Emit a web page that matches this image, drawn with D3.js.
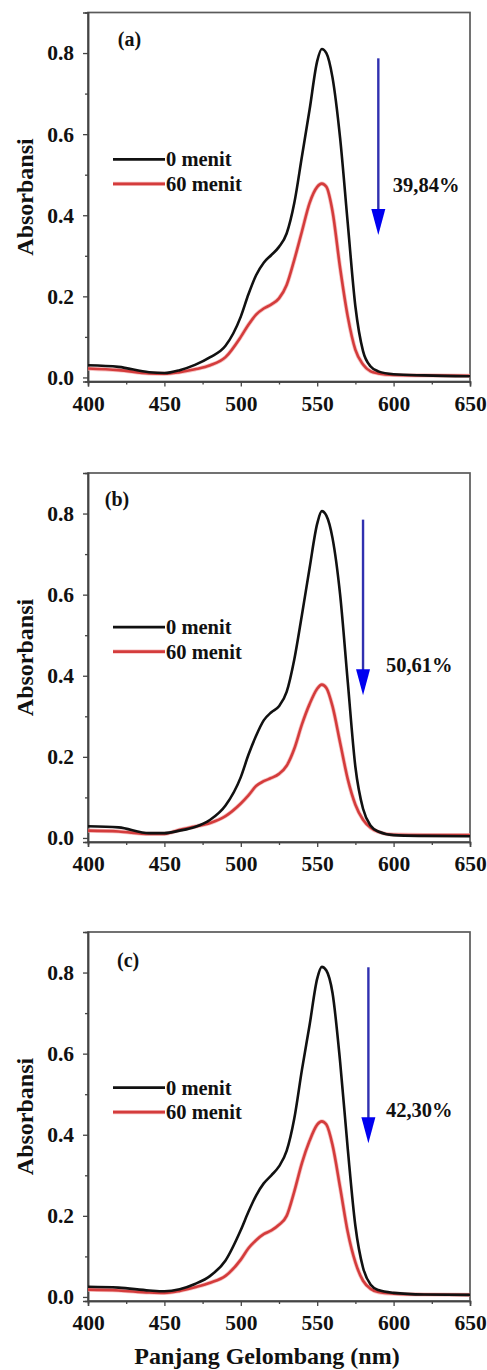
<!DOCTYPE html>
<html>
<head>
<meta charset="utf-8">
<script src="https://cdn.jsdelivr.net/npm/d3@7"></script>
<style>
  html, body { margin: 0; padding: 0; background: #fff; }
  svg { display: block; }
  text { font-family: "Liberation Serif", "Times New Roman", serif; font-weight: bold; fill: #111; }
</style>
</head>
<body>
<svg id="chart" width="487" height="1370"></svg>
<script>
// ---------- DATA ----------
const wavelengths = [400,420,440,450,460,470,480,490,500,505,510,515,520,525,530,535,540,545,550,553,556,560,565,570,575,580,585,590,600,620,650];

const panelLabels = ["(a)", "(b)", "(c)"];
const seriesNames = ["0 menit", "60 menit"];
const percentLabels = ["39,84%", "50,61%", "42,30%"];

const a0 = [0.030,0.026,0.013,0.011,0.018,0.031,0.050,0.078,0.150,0.205,0.252,0.283,0.302,0.322,0.355,0.430,0.545,0.660,0.780,0.810,0.800,0.740,0.590,0.380,0.175,0.065,0.027,0.015,0.008,0.005,0.003];
const a60 = [0.022,0.018,0.010,0.009,0.013,0.020,0.030,0.050,0.100,0.130,0.155,0.170,0.180,0.195,0.228,0.290,0.360,0.430,0.470,0.478,0.470,0.410,0.270,0.150,0.068,0.032,0.015,0.010,0.006,0.005,0.004];

const b0 = [0.029,0.026,0.012,0.012,0.018,0.027,0.045,0.080,0.150,0.205,0.252,0.290,0.310,0.325,0.360,0.440,0.550,0.665,0.775,0.806,0.795,0.740,0.600,0.385,0.175,0.072,0.030,0.016,0.007,0.005,0.004];
const b60 = [0.018,0.016,0.010,0.010,0.020,0.028,0.037,0.054,0.085,0.105,0.128,0.140,0.148,0.158,0.178,0.220,0.280,0.330,0.368,0.378,0.370,0.325,0.235,0.145,0.082,0.045,0.025,0.015,0.008,0.007,0.007];

const c0 = [0.025,0.023,0.016,0.014,0.019,0.032,0.052,0.090,0.165,0.210,0.250,0.280,0.300,0.322,0.360,0.440,0.560,0.670,0.785,0.814,0.805,0.750,0.580,0.365,0.175,0.072,0.030,0.017,0.010,0.006,0.005];
const c60 = [0.018,0.016,0.011,0.010,0.015,0.024,0.035,0.052,0.092,0.120,0.140,0.155,0.164,0.178,0.200,0.260,0.330,0.385,0.425,0.433,0.425,0.375,0.270,0.160,0.085,0.040,0.020,0.012,0.008,0.006,0.005];

const panelSeries = [[a0, a60], [b0, b60], [c0, c60]];

const xTicks = [400, 450, 500, 550, 600, 650];
const yTicks = [0.0, 0.2, 0.4, 0.6, 0.8];

// annotation anchors in data units
const arrowX = [590, 580, 583.5];
const arrowTop = [0.787, 0.785, 0.813];
const arrowTip = [0.351, 0.352, 0.379];
const percentX = [599.5, 595, 595];
const percentY = [0.474, 0.426, 0.461];
const panelLabelX = [419.5, 411, 419];
const panelLabelY = [0.834, 0.837, 0.831];
const legendY = [0.538, 0.520, 0.516];

// ---------- LAYOUT ----------
const svg = d3.select("#chart");
const left = 88, right = 470;
const panelTops = [12.5, 473, 932];
const plotH = 369;
const colors = ["#111111", "#d43c3c"];

const x = d3.scaleLinear().domain([400, 650]).range([left, right]);

panelTops.forEach((top, i) => {
  const y = d3.scaleLinear().domain([-0.01, 0.9]).range([top + plotH, top]);
  const g = svg.append("g");

  // frame
  g.append("rect")
    .attr("x", left).attr("y", top)
    .attr("width", right - left).attr("height", plotH)
    .attr("fill", "none").attr("stroke", "#5a5a5a").attr("stroke-width", 1.7);

  // axes
  const yAxis = d3.axisLeft(y).tickValues(yTicks).tickFormat(d3.format(".1f")).tickSize(5).tickPadding(9);
  const yMinor = d3.axisLeft(y).tickValues([0.1, 0.3, 0.5, 0.7]).tickFormat("").tickSize(3);
  const xAxis = d3.axisBottom(x).tickValues(xTicks).tickFormat(d3.format("d")).tickSize(5).tickPadding(9);
  const xMinor = d3.axisBottom(x).tickValues([425, 475, 525, 575, 625]).tickFormat("").tickSize(3);

  g.append("g").attr("transform", `translate(${left},0)`).call(yAxis);
  g.append("g").attr("transform", `translate(${left},0)`).call(yMinor);
  g.append("g").attr("transform", `translate(0,${top + plotH})`).call(xAxis);
  g.append("g").attr("transform", `translate(0,${top + plotH})`).call(xMinor);

  g.selectAll(".domain").attr("stroke", "#444").attr("stroke-width", 1.5);
  g.selectAll(".tick line").attr("stroke", "#444").attr("stroke-width", 1.3);
  g.selectAll(".tick text").attr("font-size", 21.5).attr("font-family", "Liberation Serif, serif").attr("font-weight", "bold").attr("fill", "#111");

  // y title
  g.append("text")
    .attr("transform", `translate(33,${top + plotH / 2}) rotate(-90)`)
    .attr("text-anchor", "middle")
    .attr("font-size", 24)
    .text("Absorbansi");

  // lines
  const line = d3.line().x((d, k) => x(wavelengths[k])).y(d => y(d)).curve(d3.curveMonotoneX);
  g.append("path").datum(panelSeries[i][1])
    .attr("d", line).attr("fill", "none")
    .attr("stroke", "#f3aaaa").attr("stroke-width", 4.2).attr("stroke-opacity", 0.7);
  panelSeries[i].slice().reverse().forEach((s, ri) => {
    const k = 1 - ri;
    g.append("path").datum(s)
      .attr("d", line).attr("fill", "none")
      .attr("stroke", colors[k]).attr("stroke-width", 2.6)
      .attr("stroke-linejoin", "round");
  });

  // panel label
  g.append("text")
    .attr("x", x(panelLabelX[i])).attr("y", y(panelLabelY[i]))
    .attr("dy", "0.35em").attr("font-size", 20)
    .text(panelLabels[i]);

  // legend
  const legY0 = y(legendY[i]);
  const legGap = 24.5;
  seriesNames.forEach((name, k) => {
    const ly = legY0 + k * legGap;
    if (k === 1) {
      g.append("line").attr("x1", left + 25).attr("x2", left + 77)
        .attr("y1", ly).attr("y2", ly)
        .attr("stroke", "#f3aaaa").attr("stroke-width", 4.2).attr("stroke-opacity", 0.7);
    }
    g.append("line").attr("x1", left + 25).attr("x2", left + 77)
      .attr("y1", ly).attr("y2", ly)
      .attr("stroke", colors[k]).attr("stroke-width", 2.8);
    g.append("text").attr("x", left + 78).attr("y", ly)
      .attr("dy", "0.35em").attr("font-size", 20.5)
      .text(name);
  });

  // arrow
  const ax = x(arrowX[i]);
  const yTop = y(arrowTop[i]);
  const yTip = y(arrowTip[i]);
  const headLen = 26, headW = 7;
  g.append("line").attr("x1", ax).attr("x2", ax)
    .attr("y1", yTop).attr("y2", yTip - headLen + 2)
    .attr("stroke", "#3030b0").attr("stroke-width", 2.4);
  g.append("path")
    .attr("d", `M${ax - headW},${yTip - headLen} L${ax + headW},${yTip - headLen} L${ax},${yTip} Z`)
    .attr("fill", "#0000f0");

  // percent label
  g.append("text")
    .attr("x", x(percentX[i])).attr("y", y(percentY[i]))
    .attr("dy", "0.35em").attr("font-size", 20.5)
    .text(percentLabels[i]);
});

// x title
svg.append("text")
  .attr("x", 267).attr("y", 1364)
  .attr("text-anchor", "middle")
  .attr("font-size", 24)
  .text("Panjang Gelombang (nm)");
</script>
</body>
</html>
